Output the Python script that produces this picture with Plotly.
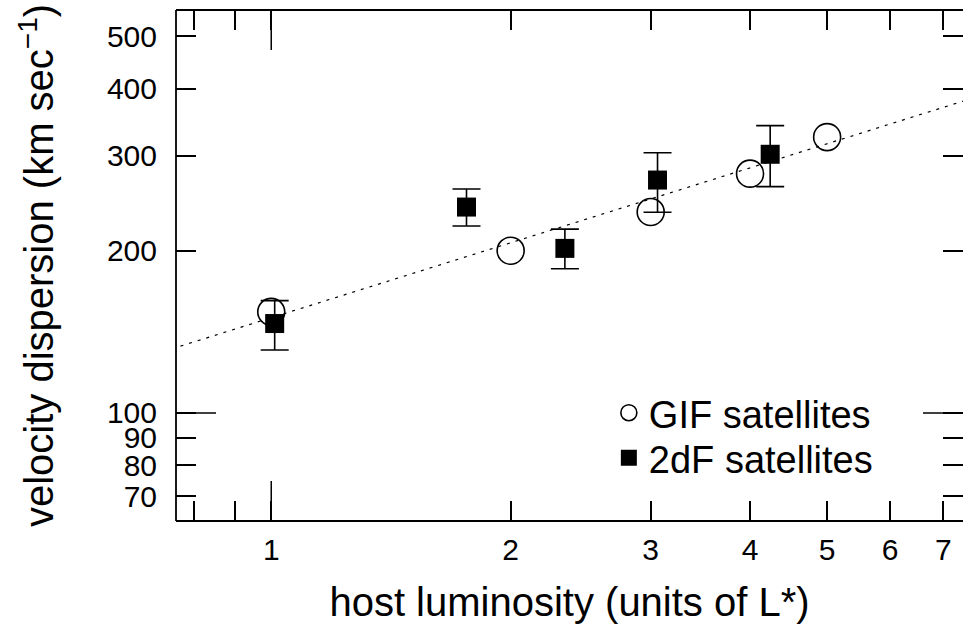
import plotly.graph_objects as go
import numpy as np

# GIF satellites (open circles)
gif_L = [1.0, 2.0, 3.0, 4.0, 5.0]
gif_sigma = [154, 200, 236, 278, 325]

# 2dF satellites (filled squares) with error bars
tdf_L = [1.01, 1.76, 2.34, 3.06, 4.24]
tdf_sigma = [146.5, 241, 202, 270.5, 302]
tdf_err_hi = [161.6, 260.4, 219.3, 304, 341.3]
tdf_err_lo = [130.8, 222.3, 185.2, 235.8, 263]

# dotted fit line end points
fit_L = [0.75, 7.5]
fit_sigma = [131.5, 381]

x_tickvals = [0.8, 0.9, 1, 2, 3, 4, 5, 6, 7]
x_ticktext = ["", "", "1", "2", "3", "4", "5", "6", "7"]
y_tickvals = [70, 80, 90, 100, 200, 300, 400, 500]
y_ticktext = ["70", "80", "90", "100", "200", "300", "400", "500"]

x_range = [0.759, 7.41]
y_range = [63.0, 559.5]

FONT = "Liberation Sans, Arial, Helvetica, sans-serif"

fig = go.Figure()

fig.add_trace(go.Scatter(
    x=fit_L, y=fit_sigma, mode="lines",
    line=dict(color="black", width=1.2, dash="3px,6px"),
    showlegend=False, hoverinfo="skip"))

fig.add_trace(go.Scatter(
    x=gif_L, y=gif_sigma, mode="markers", name="GIF satellites",
    legend="legend",
    marker=dict(symbol="circle-open", size=27, color="black",
                line=dict(width=1.6, color="black"))))

err_plus = [h - s for h, s in zip(tdf_err_hi, tdf_sigma)]
err_minus = [s - l for s, l in zip(tdf_sigma, tdf_err_lo)]
fig.add_trace(go.Scatter(
    x=tdf_L, y=tdf_sigma, mode="markers", name="2dF satellites",
    legend="legend2",
    marker=dict(symbol="square", size=19, color="black"),
    error_y=dict(type="data", symmetric=False, array=err_plus,
                 arrayminus=err_minus, color="black", thickness=1.6, width=14)))

W, H = 963, 641
ml, mr, mt, mb = 176, 0, 10, 120
pw, ph = W - ml - mr, H - mt - mb

axis_common = dict(
    type="log", showgrid=False, zeroline=False, showline=False,
    ticks="inside", ticklen=20, tickwidth=1.5, tickcolor="black",
    mirror="ticks", tickfont=dict(family=FONT, size=30, color="black"),
)

fig.update_xaxes(
    **axis_common,
    range=[np.log10(x_range[0]), np.log10(x_range[1])],
    tickmode="array", tickvals=x_tickvals, ticktext=x_ticktext,
    ticklabelstandoff=8,
    title=dict(text="host luminosity (units of L*)",
               font=dict(family=FONT, size=40, color="black"), standoff=22),
)
fig.update_yaxes(
    **axis_common,
    range=[np.log10(y_range[0]), np.log10(y_range[1])],
    tickmode="array", tickvals=y_tickvals, ticktext=y_ticktext,
    ticklabelstandoff=18,
    title=dict(text="velocity dispersion (km sec<sup>−1</sup>)",
               font=dict(family=FONT, size=40, color="black"), standoff=40),
)

shapes = []
# box border (left, top, bottom); right edge lies outside the window
for x0, y0, x1, y1 in [(0, 0, 0, 1), (0, 1, 1.02, 1), (0, 0, 1.02, 0)]:
    shapes.append(dict(type="line", xref="paper", yref="paper",
                       x0=x0, y0=y0, x1=x1, y1=y1,
                       line=dict(color="black", width=1.8)))
# longer ticks at L=1 and sigma=100
lt_y = 40 / ph
lt_x = 40 / pw
shapes.append(dict(type="line", xref="x", yref="paper", x0=1, x1=1, y0=0, y1=lt_y,
                   line=dict(color="black", width=1.5)))
shapes.append(dict(type="line", xref="x", yref="paper", x0=1, x1=1, y0=1 - lt_y, y1=1,
                   line=dict(color="black", width=1.5)))
shapes.append(dict(type="line", xref="paper", yref="y", x0=0, x1=lt_x, y0=100, y1=100,
                   line=dict(color="black", width=1.5)))
shapes.append(dict(type="line", xref="paper", yref="y", x0=1 - lt_x, x1=1, y0=100, y1=100,
                   line=dict(color="black", width=1.5)))

legend_common = dict(xanchor="left", yanchor="middle",
                     bgcolor="rgba(0,0,0,0)", borderwidth=0,
                     font=dict(family=FONT, size=38, color="black"),
                     itemsizing="trace")

fig.update_layout(
    width=W, height=H,
    margin=dict(l=ml, r=mr, t=mt, b=mb),
    paper_bgcolor="white", plot_bgcolor="white",
    font=dict(family=FONT, color="black"),
    shapes=shapes,
    legend=dict(x=0.55, y=(521 - 413) / ph, **legend_common),
    legend2=dict(x=0.55, y=(521 - 458) / ph, **legend_common),
)

fig.write_html("out.html")
